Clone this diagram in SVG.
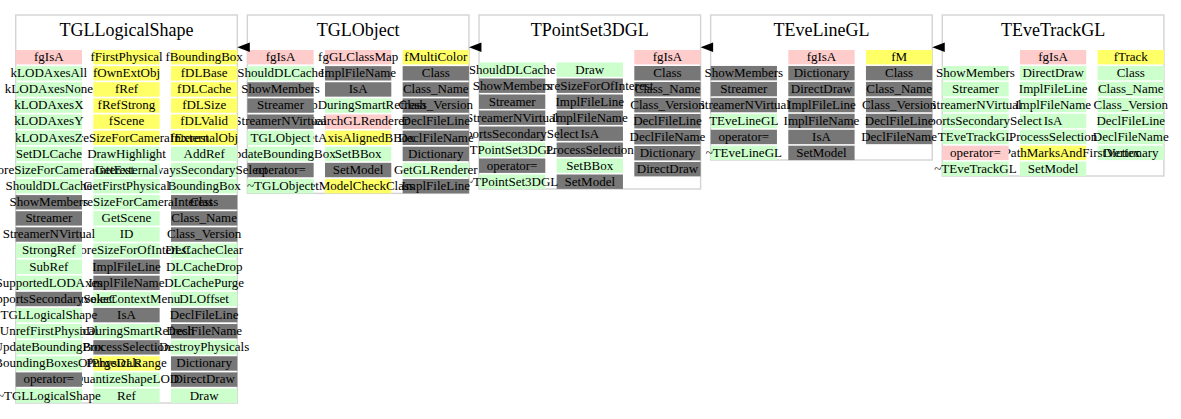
<svg xmlns="http://www.w3.org/2000/svg" width="1181" height="419" viewBox="0 0 1181 419">
<style>
.bg{fill:#ffffff}
.fr{fill:#ffffff;stroke:#d3d3d3;stroke-width:1.4}
.ttl{font-family:"Liberation Serif","Times New Roman",serif;font-size:18px;fill:#000;text-anchor:middle}
text{font-family:"Liberation Serif","Times New Roman",serif;font-size:13px;fill:#000;text-anchor:middle}
.p{fill:#ffcccc}
.g{fill:#ccffcc}
.y{fill:#ffff66}
.d{fill:#777777}
.arr{fill:#000;stroke:none}
</style>
<rect class="bg" x="0" y="0" width="1181" height="419"/>

<g id="TEveTrackGL">
<rect class="fr" x="942.3" y="15" width="221.6" height="161"/>
<text class="ttl" x="1053.1" y="36">TEveTrackGL</text>
<g transform="translate(1097.6,0)">
<rect class="y" y="50" width="66.3" height="14.4"/><text x="33.15" y="61">fTrack</text>
<rect class="g" y="65.95" width="66.3" height="14.4"/><text x="33.15" y="76.95">Class</text>
<rect class="g" y="81.9" width="66.3" height="14.4"/><text x="33.15" y="92.9">Class_Name</text>
<rect class="g" y="97.85" width="66.3" height="14.4"/><text x="33.15" y="108.85">Class_Version</text>
<rect class="g" y="113.8" width="66.3" height="14.4"/><text x="33.15" y="124.8">DeclFileLine</text>
<rect class="g" y="129.75" width="66.3" height="14.4"/><text x="33.15" y="140.75">DeclFileName</text>
<rect class="g" y="145.7" width="66.3" height="14.4"/><text x="33.15" y="156.7">Dictionary</text>
</g>
<g transform="translate(1019.95,0)">
<rect class="p" y="50" width="66.3" height="14.4"/><text x="33.15" y="61">fgIsA</text>
<rect class="g" y="65.95" width="66.3" height="14.4"/><text x="33.15" y="76.95">DirectDraw</text>
<rect class="g" y="81.9" width="66.3" height="14.4"/><text x="33.15" y="92.9">ImplFileLine</text>
<rect class="g" y="97.85" width="66.3" height="14.4"/><text x="33.15" y="108.85">ImplFileName</text>
<rect class="g" y="113.8" width="66.3" height="14.4"/><text x="33.15" y="124.8">IsA</text>
<rect class="g" y="129.75" width="66.3" height="14.4"/><text x="33.15" y="140.75">ProcessSelection</text>
<rect class="y" y="145.7" width="66.3" height="14.4"/><text x="33.15" y="156.7">RenderPathMarksAndFirstVertex</text>
<rect class="g" y="161.65" width="66.3" height="14.4"/><text x="33.15" y="172.65">SetModel</text>
</g>
<g transform="translate(942.3,0)">
<rect class="g" y="65.95" width="66.3" height="14.4"/><text x="33.15" y="76.95">ShowMembers</text>
<rect class="g" y="81.9" width="66.3" height="14.4"/><text x="33.15" y="92.9">Streamer</text>
<rect class="g" y="97.85" width="66.3" height="14.4"/><text x="33.15" y="108.85">StreamerNVirtual</text>
<rect class="g" y="113.8" width="66.3" height="14.4"/><text x="33.15" y="124.8">SupportsSecondarySelect</text>
<rect class="g" y="129.75" width="66.3" height="14.4"/><text x="33.15" y="140.75">TEveTrackGL</text>
<rect class="p" y="145.7" width="66.3" height="14.4"/><text x="33.15" y="156.7">operator=</text>
<rect class="g" y="161.65" width="66.3" height="14.4"/><text x="33.15" y="172.65">~TEveTrackGL</text>
</g>
</g>

<g id="TEveLineGL">
<rect class="fr" x="710.65" y="15" width="221.6" height="145"/>
<text class="ttl" x="821.45" y="36">TEveLineGL</text>
<g transform="translate(865.95,0)">
<rect class="y" y="50" width="66.3" height="14.4"/><text x="33.15" y="61">fM</text>
<rect class="d" y="65.95" width="66.3" height="14.4"/><text x="33.15" y="76.95">Class</text>
<rect class="d" y="81.9" width="66.3" height="14.4"/><text x="33.15" y="92.9">Class_Name</text>
<rect class="d" y="97.85" width="66.3" height="14.4"/><text x="33.15" y="108.85">Class_Version</text>
<rect class="d" y="113.8" width="66.3" height="14.4"/><text x="33.15" y="124.8">DeclFileLine</text>
<rect class="d" y="129.75" width="66.3" height="14.4"/><text x="33.15" y="140.75">DeclFileName</text>
</g>
<g transform="translate(788.3,0)">
<rect class="p" y="50" width="66.3" height="14.4"/><text x="33.15" y="61">fgIsA</text>
<rect class="d" y="65.95" width="66.3" height="14.4"/><text x="33.15" y="76.95">Dictionary</text>
<rect class="d" y="81.9" width="66.3" height="14.4"/><text x="33.15" y="92.9">DirectDraw</text>
<rect class="d" y="97.85" width="66.3" height="14.4"/><text x="33.15" y="108.85">ImplFileLine</text>
<rect class="d" y="113.8" width="66.3" height="14.4"/><text x="33.15" y="124.8">ImplFileName</text>
<rect class="d" y="129.75" width="66.3" height="14.4"/><text x="33.15" y="140.75">IsA</text>
<rect class="d" y="145.7" width="66.3" height="14.4"/><text x="33.15" y="156.7">SetModel</text>
</g>
<g transform="translate(710.65,0)">
<rect class="d" y="65.95" width="66.3" height="14.4"/><text x="33.15" y="76.95">ShowMembers</text>
<rect class="d" y="81.9" width="66.3" height="14.4"/><text x="33.15" y="92.9">Streamer</text>
<rect class="d" y="97.85" width="66.3" height="14.4"/><text x="33.15" y="108.85">StreamerNVirtual</text>
<rect class="g" y="113.8" width="66.3" height="14.4"/><text x="33.15" y="124.8">TEveLineGL</text>
<rect class="d" y="129.75" width="66.3" height="14.4"/><text x="33.15" y="140.75">operator=</text>
<rect class="g" y="145.7" width="66.3" height="14.4"/><text x="33.15" y="156.7">~TEveLineGL</text>
</g>
</g>

<g id="TPointSet3DGL">
<rect class="fr" x="479" y="15" width="221.6" height="174"/>
<text class="ttl" x="589.8" y="36">TPointSet3DGL</text>
<g transform="translate(634.3,0)">
<rect class="p" y="50" width="66.3" height="14.4"/><text x="33.15" y="61">fgIsA</text>
<rect class="d" y="66" width="66.3" height="14.4"/><text x="33.15" y="77">Class</text>
<rect class="d" y="82" width="66.3" height="14.4"/><text x="33.15" y="93">Class_Name</text>
<rect class="d" y="98" width="66.3" height="14.4"/><text x="33.15" y="109">Class_Version</text>
<rect class="d" y="114" width="66.3" height="14.4"/><text x="33.15" y="125">DeclFileLine</text>
<rect class="d" y="130" width="66.3" height="14.4"/><text x="33.15" y="141">DeclFileName</text>
<rect class="d" y="146" width="66.3" height="14.4"/><text x="33.15" y="157">Dictionary</text>
<rect class="d" y="162" width="66.3" height="14.4"/><text x="33.15" y="173">DirectDraw</text>
</g>
<g transform="translate(556.65,0)">
<rect class="g" y="62.5" width="66.3" height="14.4"/><text x="33.15" y="73.5">Draw</text>
<rect class="d" y="78.5" width="66.3" height="14.4"/><text x="33.15" y="89.5">IgnoreSizeForOfInterest</text>
<rect class="d" y="94.5" width="66.3" height="14.4"/><text x="33.15" y="105.5">ImplFileLine</text>
<rect class="d" y="110.5" width="66.3" height="14.4"/><text x="33.15" y="121.5">ImplFileName</text>
<rect class="d" y="126.5" width="66.3" height="14.4"/><text x="33.15" y="137.5">IsA</text>
<rect class="d" y="142.5" width="66.3" height="14.4"/><text x="33.15" y="153.5">ProcessSelection</text>
<rect class="g" y="158.5" width="66.3" height="14.4"/><text x="33.15" y="169.5">SetBBox</text>
<rect class="d" y="174.5" width="66.3" height="14.4"/><text x="33.15" y="185.5">SetModel</text>
</g>
<g transform="translate(479,0)">
<rect class="g" y="62.5" width="66.3" height="14.4"/><text x="33.15" y="73.5">ShouldDLCache</text>
<rect class="d" y="78.5" width="66.3" height="14.4"/><text x="33.15" y="89.5">ShowMembers</text>
<rect class="d" y="94.5" width="66.3" height="14.4"/><text x="33.15" y="105.5">Streamer</text>
<rect class="d" y="110.5" width="66.3" height="14.4"/><text x="33.15" y="121.5">StreamerNVirtual</text>
<rect class="d" y="126.5" width="66.3" height="14.4"/><text x="33.15" y="137.5">SupportsSecondarySelect</text>
<rect class="g" y="142.5" width="66.3" height="14.4"/><text x="33.15" y="153.5">TPointSet3DGL</text>
<rect class="d" y="158.5" width="66.3" height="14.4"/><text x="33.15" y="169.5">operator=</text>
<rect class="g" y="174.5" width="66.3" height="14.4"/><text x="33.15" y="185.5">~TPointSet3DGL</text>
</g>
</g>

<g id="TGLObject">
<rect class="fr" x="247.35" y="15" width="221.6" height="178.4"/>
<text class="ttl" x="358.15" y="36">TGLObject</text>
<g transform="translate(402.65,0)">
<rect class="y" y="50" width="66.3" height="14.4"/><text x="33.15" y="61">fMultiColor</text>
<rect class="d" y="66.12" width="66.3" height="14.4"/><text x="33.15" y="77.12">Class</text>
<rect class="d" y="82.24" width="66.3" height="14.4"/><text x="33.15" y="93.24">Class_Name</text>
<rect class="d" y="98.36" width="66.3" height="14.4"/><text x="33.15" y="109.36">Class_Version</text>
<rect class="d" y="114.48" width="66.3" height="14.4"/><text x="33.15" y="125.48">DeclFileLine</text>
<rect class="d" y="130.6" width="66.3" height="14.4"/><text x="33.15" y="141.6">DeclFileName</text>
<rect class="d" y="146.72" width="66.3" height="14.4"/><text x="33.15" y="157.72">Dictionary</text>
<rect class="g" y="162.84" width="66.3" height="14.4"/><text x="33.15" y="173.84">GetGLRenderer</text>
<rect class="d" y="178.96" width="66.3" height="14.4"/><text x="33.15" y="189.96">ImplFileLine</text>
</g>
<g transform="translate(325,0)">
<rect class="p" y="50" width="66.3" height="14.4"/><text x="33.15" y="61">fgGLClassMap</text>
<rect class="d" y="66.12" width="66.3" height="14.4"/><text x="33.15" y="77.12">ImplFileName</text>
<rect class="d" y="82.24" width="66.3" height="14.4"/><text x="33.15" y="93.24">IsA</text>
<rect class="g" y="98.36" width="66.3" height="14.4"/><text x="33.15" y="109.36">KeepDuringSmartRefresh</text>
<rect class="p" y="114.48" width="66.3" height="14.4"/><text x="33.15" y="125.48">SearchGLRenderer</text>
<rect class="y" y="130.6" width="66.3" height="14.4"/><text x="33.15" y="141.6">SetAxisAlignedBBox</text>
<rect class="g" y="146.72" width="66.3" height="14.4"/><text x="33.15" y="157.72">SetBBox</text>
<rect class="d" y="162.84" width="66.3" height="14.4"/><text x="33.15" y="173.84">SetModel</text>
<rect class="y" y="178.96" width="66.3" height="14.4"/><text x="33.15" y="189.96">SetModelCheckClass</text>
</g>
<g transform="translate(247.35,0)">
<rect class="p" y="50" width="66.3" height="14.4"/><text x="33.15" y="61">fgIsA</text>
<rect class="g" y="66.12" width="66.3" height="14.4"/><text x="33.15" y="77.12">ShouldDLCache</text>
<rect class="d" y="82.24" width="66.3" height="14.4"/><text x="33.15" y="93.24">ShowMembers</text>
<rect class="d" y="98.36" width="66.3" height="14.4"/><text x="33.15" y="109.36">Streamer</text>
<rect class="d" y="114.48" width="66.3" height="14.4"/><text x="33.15" y="125.48">StreamerNVirtual</text>
<rect class="g" y="130.6" width="66.3" height="14.4"/><text x="33.15" y="141.6">TGLObject</text>
<rect class="g" y="146.72" width="66.3" height="14.4"/><text x="33.15" y="157.72">UpdateBoundingBox</text>
<rect class="d" y="162.84" width="66.3" height="14.4"/><text x="33.15" y="173.84">operator=</text>
<rect class="g" y="178.96" width="66.3" height="14.4"/><text x="33.15" y="189.96">~TGLObject</text>
</g>
</g>

<g id="TGLLogicalShape">
<rect class="fr" x="15.7" y="15" width="221.6" height="388"/>
<text class="ttl" x="126.5" y="36">TGLLogicalShape</text>
<g transform="translate(171,0)">
<rect class="y" y="50" width="66.3" height="14.4"/><text x="33.15" y="61">fBoundingBox</text>
<rect class="y" y="66.12" width="66.3" height="14.4"/><text x="33.15" y="77.12">fDLBase</text>
<rect class="y" y="82.24" width="66.3" height="14.4"/><text x="33.15" y="93.24">fDLCache</text>
<rect class="y" y="98.36" width="66.3" height="14.4"/><text x="33.15" y="109.36">fDLSize</text>
<rect class="y" y="114.48" width="66.3" height="14.4"/><text x="33.15" y="125.48">fDLValid</text>
<rect class="y" y="130.6" width="66.3" height="14.4"/><text x="33.15" y="141.6">fExternalObj</text>
<rect class="g" y="146.72" width="66.3" height="14.4"/><text x="33.15" y="157.72">AddRef</text>
<rect class="g" y="162.84" width="66.3" height="14.4"/><text x="33.15" y="173.84">AlwaysSecondarySelect</text>
<rect class="g" y="178.96" width="66.3" height="14.4"/><text x="33.15" y="189.96">BoundingBox</text>
<rect class="d" y="195.08" width="66.3" height="14.4"/><text x="33.15" y="206.08">Class</text>
<rect class="d" y="211.2" width="66.3" height="14.4"/><text x="33.15" y="222.2">Class_Name</text>
<rect class="d" y="227.32" width="66.3" height="14.4"/><text x="33.15" y="238.32">Class_Version</text>
<rect class="g" y="243.44" width="66.3" height="14.4"/><text x="33.15" y="254.44">DLCacheClear</text>
<rect class="g" y="259.56" width="66.3" height="14.4"/><text x="33.15" y="270.56">DLCacheDrop</text>
<rect class="g" y="275.68" width="66.3" height="14.4"/><text x="33.15" y="286.68">DLCachePurge</text>
<rect class="g" y="291.8" width="66.3" height="14.4"/><text x="33.15" y="302.8">DLOffset</text>
<rect class="d" y="307.92" width="66.3" height="14.4"/><text x="33.15" y="318.92">DeclFileLine</text>
<rect class="d" y="324.04" width="66.3" height="14.4"/><text x="33.15" y="335.04">DeclFileName</text>
<rect class="g" y="340.16" width="66.3" height="14.4"/><text x="33.15" y="351.16">DestroyPhysicals</text>
<rect class="d" y="356.28" width="66.3" height="14.4"/><text x="33.15" y="367.28">Dictionary</text>
<rect class="d" y="372.4" width="66.3" height="14.4"/><text x="33.15" y="383.4">DirectDraw</text>
<rect class="g" y="388.52" width="66.3" height="14.4"/><text x="33.15" y="399.52">Draw</text>
</g>
<g transform="translate(93.35,0)">
<rect class="y" y="50" width="66.3" height="14.4"/><text x="33.15" y="61">fFirstPhysical</text>
<rect class="y" y="66.12" width="66.3" height="14.4"/><text x="33.15" y="77.12">fOwnExtObj</text>
<rect class="y" y="82.24" width="66.3" height="14.4"/><text x="33.15" y="93.24">fRef</text>
<rect class="y" y="98.36" width="66.3" height="14.4"/><text x="33.15" y="109.36">fRefStrong</text>
<rect class="y" y="114.48" width="66.3" height="14.4"/><text x="33.15" y="125.48">fScene</text>
<rect class="y" y="130.6" width="66.3" height="14.4"/><text x="33.15" y="141.6">fgIgnoreSizeForCameraInterest</text>
<rect class="g" y="146.72" width="66.3" height="14.4"/><text x="33.15" y="157.72">DrawHighlight</text>
<rect class="g" y="162.84" width="66.3" height="14.4"/><text x="33.15" y="173.84">GetExternal</text>
<rect class="g" y="178.96" width="66.3" height="14.4"/><text x="33.15" y="189.96">GetFirstPhysical</text>
<rect class="g" y="195.08" width="66.3" height="14.4"/><text x="33.15" y="206.08">GetIgnoreSizeForCameraInterest</text>
<rect class="g" y="211.2" width="66.3" height="14.4"/><text x="33.15" y="222.2">GetScene</text>
<rect class="g" y="227.32" width="66.3" height="14.4"/><text x="33.15" y="238.32">ID</text>
<rect class="g" y="243.44" width="66.3" height="14.4"/><text x="33.15" y="254.44">IgnoreSizeForOfInterest</text>
<rect class="d" y="259.56" width="66.3" height="14.4"/><text x="33.15" y="270.56">ImplFileLine</text>
<rect class="d" y="275.68" width="66.3" height="14.4"/><text x="33.15" y="286.68">ImplFileName</text>
<rect class="g" y="291.8" width="66.3" height="14.4"/><text x="33.15" y="302.8">InvokeContextMenu</text>
<rect class="d" y="307.92" width="66.3" height="14.4"/><text x="33.15" y="318.92">IsA</text>
<rect class="g" y="324.04" width="66.3" height="14.4"/><text x="33.15" y="335.04">KeepDuringSmartRefresh</text>
<rect class="d" y="340.16" width="66.3" height="14.4"/><text x="33.15" y="351.16">ProcessSelection</text>
<rect class="y" y="356.28" width="66.3" height="14.4"/><text x="33.15" y="367.28">PurgeDLRange</text>
<rect class="g" y="372.4" width="66.3" height="14.4"/><text x="33.15" y="383.4">QuantizeShapeLOD</text>
<rect class="g" y="388.52" width="66.3" height="14.4"/><text x="33.15" y="399.52">Ref</text>
</g>
<g transform="translate(15.7,0)">
<rect class="p" y="50" width="66.3" height="14.4"/><text x="33.15" y="61">fgIsA</text>
<rect class="g" y="66.12" width="66.3" height="14.4"/><text x="33.15" y="77.12">kLODAxesAll</text>
<rect class="g" y="82.24" width="66.3" height="14.4"/><text x="33.15" y="93.24">kLODAxesNone</text>
<rect class="g" y="98.36" width="66.3" height="14.4"/><text x="33.15" y="109.36">kLODAxesX</text>
<rect class="g" y="114.48" width="66.3" height="14.4"/><text x="33.15" y="125.48">kLODAxesY</text>
<rect class="g" y="130.6" width="66.3" height="14.4"/><text x="33.15" y="141.6">kLODAxesZ</text>
<rect class="g" y="146.72" width="66.3" height="14.4"/><text x="33.15" y="157.72">SetDLCache</text>
<rect class="g" y="162.84" width="66.3" height="14.4"/><text x="33.15" y="173.84">SetIgnoreSizeForCameraInterest</text>
<rect class="g" y="178.96" width="66.3" height="14.4"/><text x="33.15" y="189.96">ShouldDLCache</text>
<rect class="d" y="195.08" width="66.3" height="14.4"/><text x="33.15" y="206.08">ShowMembers</text>
<rect class="d" y="211.2" width="66.3" height="14.4"/><text x="33.15" y="222.2">Streamer</text>
<rect class="d" y="227.32" width="66.3" height="14.4"/><text x="33.15" y="238.32">StreamerNVirtual</text>
<rect class="g" y="243.44" width="66.3" height="14.4"/><text x="33.15" y="254.44">StrongRef</text>
<rect class="g" y="259.56" width="66.3" height="14.4"/><text x="33.15" y="270.56">SubRef</text>
<rect class="g" y="275.68" width="66.3" height="14.4"/><text x="33.15" y="286.68">SupportedLODAxes</text>
<rect class="d" y="291.8" width="66.3" height="14.4"/><text x="33.15" y="302.8">SupportsSecondarySelect</text>
<rect class="g" y="307.92" width="66.3" height="14.4"/><text x="33.15" y="318.92">TGLLogicalShape</text>
<rect class="g" y="324.04" width="66.3" height="14.4"/><text x="33.15" y="335.04">UnrefFirstPhysical</text>
<rect class="g" y="340.16" width="66.3" height="14.4"/><text x="33.15" y="351.16">UpdateBoundingBox</text>
<rect class="g" y="356.28" width="66.3" height="14.4"/><text x="33.15" y="367.28">UpdateBoundingBoxesOfPhysicals</text>
<rect class="d" y="372.4" width="66.3" height="14.4"/><text x="33.15" y="383.4">operator=</text>
<rect class="g" y="388.52" width="66.3" height="14.4"/><text x="33.15" y="399.52">~TGLLogicalShape</text>
</g>
</g>

<g id="connectors">
<path class="arr" d="M237.3,47.3 L249.8,42.5 L249.8,52.1 Z"/>
<path class="arr" d="M468.95,47.3 L481.45,42.5 L481.45,52.1 Z"/>
<path class="arr" d="M700.6,47.3 L713.1,42.5 L713.1,52.1 Z"/>
<path class="arr" d="M932.25,47.3 L944.75,42.5 L944.75,52.1 Z"/>
</g>
</svg>
